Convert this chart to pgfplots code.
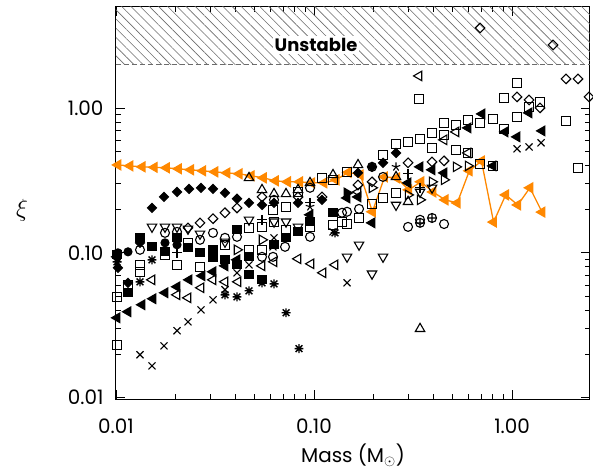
\documentclass[border=0pt]{standalone}
\usepackage{fontspec}
\setmainfont{Poppins}
\usepackage{pgfplots}
\pgfplotsset{compat=1.18}
\usetikzlibrary{patterns.meta}
\definecolor{orng}{RGB}{255,136,0}
\pgfdeclareplotmark{ast8}{%
  \pgfpathmoveto{\pgfqpoint{-\pgfplotmarksize}{0pt}}\pgfpathlineto{\pgfqpoint{\pgfplotmarksize}{0pt}}%
  \pgfpathmoveto{\pgfqpoint{0pt}{-\pgfplotmarksize}}\pgfpathlineto{\pgfqpoint{0pt}{\pgfplotmarksize}}%
  \pgfpathmoveto{\pgfqpoint{-0.75\pgfplotmarksize}{-0.75\pgfplotmarksize}}\pgfpathlineto{\pgfqpoint{0.75\pgfplotmarksize}{0.75\pgfplotmarksize}}%
  \pgfpathmoveto{\pgfqpoint{-0.75\pgfplotmarksize}{0.75\pgfplotmarksize}}\pgfpathlineto{\pgfqpoint{0.75\pgfplotmarksize}{-0.75\pgfplotmarksize}}%
  \pgfusepathqstroke}
\begin{document}
\begin{tikzpicture}
\path[use as bounding box] (-116bp,-74bp) rectangle (477bp,399bp);
\begin{axis}[
  at={(0,0)}, anchor=south west,
  scale only axis, width=474bp, height=392bp,
  xmode=log, ymode=log,
  xmin=0.01, xmax=2.475, ymin=0.0098, ymax=4.97,
  xtick={0.01,0.1,1}, xticklabels={0.01,0.10,1.00},
  ytick={0.01,0.1,1}, yticklabels={0.01,0.10,1.00},
  /pgf/number format/assume math mode=true,
  tick label style={font=\fontsize{20}{24}\selectfont},
  xticklabel style={yshift=-16bp},
  yticklabel style={xshift=-9bp},
  major tick length=9bp, minor tick length=5bp,
  every tick/.style={black, line width=0.8bp},
  axis line style={line width=1bp},
  xlabel={Mass (M$_\odot$)},
  ylabel={$\xi$},
  label style={font=\fontsize{20}{24}\selectfont},
  x label style={at={(axis description cs:0.5,-0.143)}, anchor=center},
  y label style={at={(axis description cs:-0.198,0.482)}, anchor=center, rotate=-90, font=\fontsize{26}{30}\selectfont},
  clip=true,
]
\fill[pattern={Lines[angle=-45,distance=6.5bp,line width=0.6bp]}, pattern color=gray!85!black] (axis cs:0.01,2) rectangle (axis cs:2.475,4.97);
\draw[dash pattern=on 5bp off 3bp, gray!85!black, line width=0.8bp] (axis cs:0.01,2) -- (axis cs:2.475,2);
\node[font=\bfseries\fontsize{18}{22}\selectfont, fill=white, inner sep=2bp] at (axis cs:0.1024,2.72) {Unstable};

% orange series
\addplot[orng, line width=1.3bp, mark=triangle*, mark size=5.5, mark options={rotate=90, solid}] coordinates {
(0.01023,0.404) (0.01178,0.398) (0.01356,0.392) (0.01562,0.389) (0.01798,0.386)
(0.02070,0.380) (0.02383,0.374) (0.02744,0.368) (0.03159,0.362) (0.03637,0.356)
(0.04188,0.351) (0.04821,0.340) (0.05550,0.329) (0.06390,0.314) (0.07357,0.309)
(0.08470,0.309) (0.09751,0.304) (0.1123,0.304) (0.1293,0.319) (0.1488,0.359)
(0.1713,0.345) (0.1972,0.192) (0.2271,0.334) (0.2614,0.329) (0.3010,0.272)
(0.3465,0.309) (0.3989,0.263) (0.4592,0.232) (0.5287,0.221) (0.6087,0.368)
(0.7008,0.430) (0.8068,0.163) (0.9288,0.251) (1.069,0.214) (1.231,0.281) (1.417,0.191)
};

\pgfplotsset{every axis plot/.append style={black, line width=1.1bp}}

% filled diamonds
\addplot[only marks, mark=square*, mark size=3.2, mark options={rotate=45}] coordinates {
(0.01023,0.0788) (0.01150,0.0621) (0.01322,0.1172) (0.01520,0.204) (0.01748,0.243)
(0.02033,0.263) (0.02338,0.276) (0.02687,0.281) (0.03090,0.276) (0.03552,0.259)
(0.04084,0.236) (0.04696,0.221) (0.05463,0.214) (0.06281,0.221) (0.08303,0.221)
(0.1098,0.232) (0.1668,0.356) (0.1963,0.392) (0.2231,0.418) (0.2595,0.489)
};
% open diamonds
\addplot[only marks, mark=square, mark size=3.4, mark options={rotate=45}] coordinates {
(0.02310,0.1487) (0.02656,0.161) (0.03090,0.172) (0.03552,0.189) (0.04084,0.204)
(0.05463,0.243) (0.08303,0.243) (0.1098,0.243) (0.1668,0.294) (0.1963,0.309)
(0.2984,0.418) (0.3945,0.424) (0.4536,0.431) (0.6893,3.562) (1.0599,1.191)
(1.2186,1.135) (1.3851,1.0) (1.6110,2.720) (1.8734,1.585) (2.154,1.585) (2.448,1.191)
};
% crosses
\addplot[only marks, mark=x, mark size=5] coordinates {
(0.01322,0.0198) (0.01520,0.0166) (0.01748,0.0228) (0.02033,0.0290) (0.02310,0.0334)
(0.02687,0.0404) (0.03090,0.0474) (0.03552,0.0556) (0.04084,0.0728) (0.04696,0.0826)
(0.06281,0.1269) (0.06208,0.1100) (0.07139,0.1289) (0.1247,0.1395) (0.1468,0.0621)
(1.0599,0.522) (1.2186,0.538) (1.4015,0.574)
};
% asterisks
\addplot[only marks, mark=ast8, mark size=4.5, line width=1.4bp] coordinates {
(0.01322,0.0631) (0.01520,0.0895) (0.01012,0.0867) (0.03552,0.0513) (0.04084,0.0497)
(0.04696,0.0547) (0.05463,0.0621) (0.06281,0.0611) (0.07222,0.0386) (0.08398,0.0218)
(0.1277,0.1373)
};
% stars
\addplot[only marks, mark=star, mark size=4.5] coordinates {
(0.09545,0.208) (0.2595,0.392)
};
% filled circles
\addplot[only marks, mark=*, mark size=4] coordinates {
(0.01023,0.100) (0.01150,0.1016) (0.01768,0.1172) (0.02033,0.1136) (0.01322,0.1229)
};
% filled left triangles
\addplot[only marks, mark=triangle*, mark size=5.5, mark options={rotate=90}] coordinates {
(0.01012,0.0356) (0.01150,0.0392) (0.01353,0.0438) (0.01538,0.0482) (0.01768,0.0530)
(0.02033,0.0583) (0.02338,0.0651) (0.02719,0.0694) (0.03090,0.0740) (0.03552,0.0813)
(0.04084,0.0895) (0.09545,0.183) (0.1468,0.239) (0.1668,0.243) (0.1963,0.161)
(0.2984,0.304) (0.3431,0.392) (0.3945,0.374) (0.4536,0.356) (0.5995,0.728)
(0.7056,0.909) (0.8017,0.398) (0.9219,0.683) (1.0599,0.631) (1.2186,0.924) (1.4178,0.694)
};
% filled right triangle
\addplot[only marks, mark=triangle*, mark size=5.5, mark options={rotate=-90}] coordinates {
(0.1468,0.259)
};
% open left triangles
\addplot[only marks, mark=triangle, mark size=5.5, mark options={rotate=90}] coordinates {
(0.01520,0.0651) (0.02033,0.0513) (0.02310,0.0489) (0.02687,0.0574) (0.03090,0.0651)
(0.03552,0.0631) (0.04132,0.0631) (0.05463,0.0813) (0.06281,0.0867) (0.08303,0.0909)
(0.09657,0.0840) (0.1110,0.0728) (0.1277,0.0826) (0.1668,0.263) (0.3391,1.662)
(0.4536,0.602) (0.5214,0.683) (0.5995,0.489) (0.01012,0.0938)
};
% open right triangles
\addplot[only marks, mark=triangle, mark size=5.5, mark options={rotate=-90}] coordinates {
(0.04084,0.1049) (0.05463,0.1229) (0.1963,0.281) (0.3431,0.232) (0.3945,0.309)
(0.4536,0.319) (0.5995,0.398) (0.2984,0.251) (0.5214,0.392)
};
% open squares
\addplot[only marks, mark=square, mark size=4.5] coordinates {
(0.01012,0.0497) (0.01012,0.0232) (0.01150,0.0602) (0.01322,0.0826) (0.01322,0.0740)
(0.01768,0.0969) (0.02033,0.0826) (0.02310,0.1172) (0.02656,0.0800) (0.03552,0.1136)
(0.04696,0.1487) (0.04696,0.1049) (0.05463,0.151) (0.05463,0.1049) (0.06208,0.198)
(0.06281,0.164) (0.07222,0.144) (0.07222,0.208) (0.08303,0.263) (0.09545,0.151)
(0.1098,0.329) (0.1247,0.319) (0.1247,0.156) (0.1385,0.164) (0.1468,0.362)
(0.1468,0.158) (0.1688,0.174) (0.1963,0.218) (0.2231,0.239) (0.2231,0.474)
(0.2595,0.565) (0.2595,0.259) (0.2984,0.583) (0.3431,0.611) (0.3391,1.154)
(0.3945,0.672) (0.3945,0.530) (0.4536,0.788) (0.4536,0.651) (0.5214,0.763)
(0.5214,0.513) (0.5995,0.826) (0.5995,0.489) (0.6893,0.788) (0.6893,0.411)
(0.8017,0.840) (0.8017,0.398) (0.9114,1.172) (0.9114,0.717) (1.0599,1.487)
(1.0599,0.867) (1.2186,1.016) (1.3851,1.100) (1.8734,0.813) (2.154,0.386)
};
% filled squares
\addplot[only marks, mark=square*, mark size=4] coordinates {
(0.01150,0.0530) (0.01520,0.1100) (0.01768,0.1016) (0.02033,0.1269) (0.02310,0.1083)
(0.02656,0.1000) (0.03090,0.1049) (0.03090,0.0924) (0.03552,0.0895) (0.04084,0.144)
(0.04084,0.0826) (0.04696,0.0938) (0.04696,0.0705) (0.05463,0.0651) (0.06281,0.1136)
(0.07222,0.1269) (0.08303,0.1395) (0.09545,0.164) (0.1247,0.189) (0.01322,0.1269)
(0.01012,0.0980)
};
% open down triangles
\addplot[only marks, mark=triangle, mark size=5.5, mark options={rotate=180}] coordinates {
(0.01520,0.151) (0.01768,0.151) (0.02033,0.151) (0.02310,0.1464) (0.02656,0.1352)
(0.03552,0.1191) (0.04696,0.169) (0.06281,0.164) (0.07222,0.164) (0.08303,0.151)
(0.1468,0.0938) (0.1688,0.1136) (0.1963,0.0717) (0.2231,0.0938) (0.2595,0.214)
(0.3431,0.263) (0.3945,0.281)
};
% open up triangles
\addplot[only marks, mark=triangle, mark size=5.5] coordinates {
(0.04696,0.329) (0.05463,0.272) (0.06281,0.255) (0.07222,0.255) (0.08303,0.272)
(0.09545,0.304) (0.1247,0.345) (0.1668,0.404) (0.2595,0.334) (0.2984,0.225)
(0.3431,0.0299)
};
% open circles
\addplot[only marks, mark=o, mark size=4.5] coordinates {
(0.01322,0.1049) (0.01768,0.1373) (0.02033,0.1395) (0.02656,0.1229) (0.03090,0.1373)
(0.03552,0.1269) (0.04084,0.1289) (0.05463,0.0938) (0.06208,0.0938) (0.06281,0.232)
(0.07139,0.1100) (0.09545,0.281) (0.09545,0.1289) (0.1385,0.189) (0.1468,0.192)
(0.1688,0.201) (0.1963,0.392) (0.2231,0.334) (0.2984,0.151) (0.4536,0.158)
(0.3431,0.169)
};
% oplus
\addplot[only marks, mark=oplus, mark size=4.5] coordinates {
(0.3431,0.161) (0.3945,0.174)
};
% plus
\addplot[only marks, mark=+, mark size=5] coordinates {
(0.02033,0.1000) (0.05463,0.169) (0.09545,0.221) (0.2984,0.351) (0.3431,0.281)
};
\end{axis}
\end{tikzpicture}
\end{document}
